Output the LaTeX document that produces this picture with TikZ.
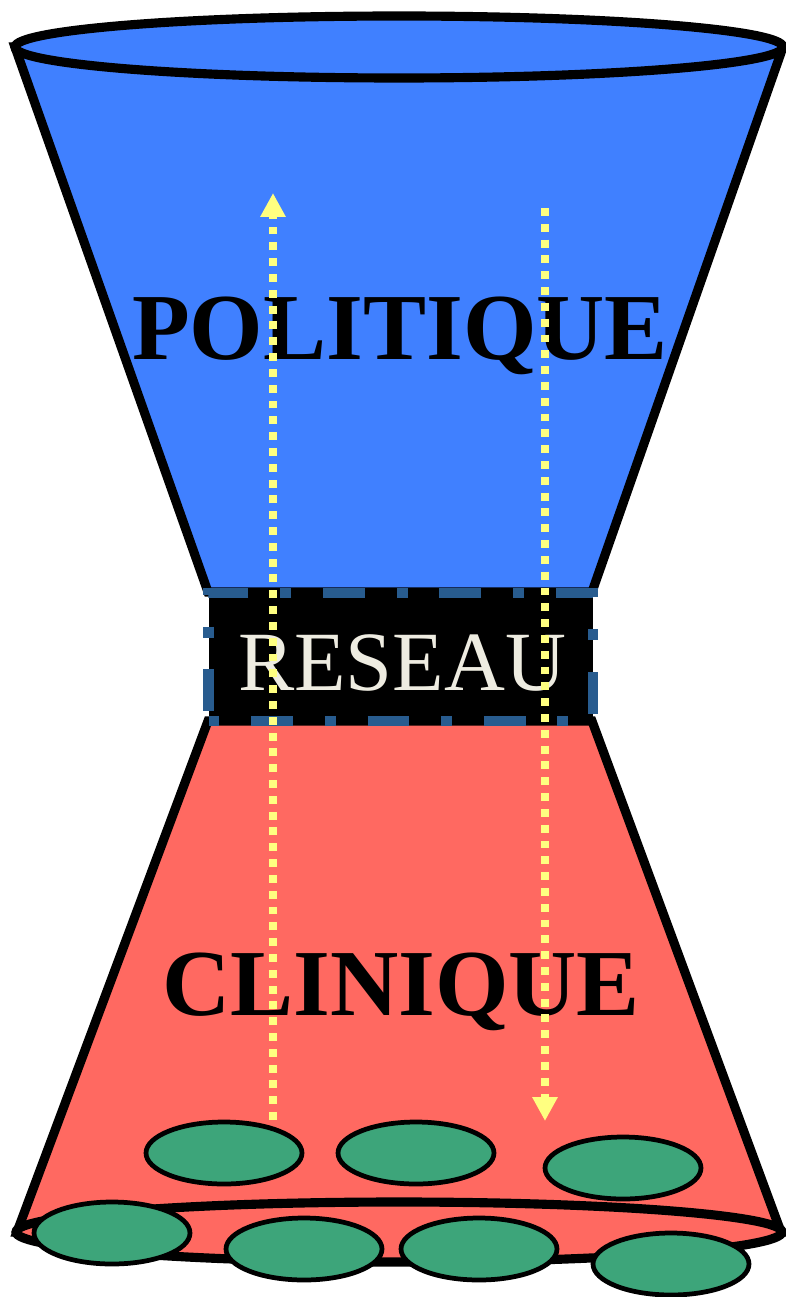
\documentclass[tikz,border=0pt]{standalone}
\usepackage{fontspec}
\setmainfont{Liberation Serif}
\usetikzlibrary{arrows.meta,shapes.geometric}
\definecolor{polblue}{HTML}{4080FF}
\definecolor{clinred}{HTML}{FF6961}
\definecolor{cellgreen}{HTML}{3DA57A}
\definecolor{netblue}{HTML}{285C8F}
\definecolor{flowyellow}{HTML}{FFFF80}
\definecolor{netwhite}{HTML}{EEECE1}
\begin{document}
\begin{tikzpicture}[x=0.02cm,y=-0.02cm,>=Latex,
  blob/.style={draw=black,line width=2.7pt,fill=cellgreen,ellipse,minimum width=3.12cm,minimum height=1.24cm,inner sep=0pt},
  flow/.style={draw=flowyellow,line width=4.5pt,dash pattern=on 4.5pt off 4.5pt,-{Triangle[length=13.6pt,width=13.6pt,fill=flowyellow]}},
  title/.style={font=\bfseries\fontsize{53.8}{60}\selectfont,anchor=base,inner sep=0pt}]
\useasboundingbox (0,0) rectangle (786,1297);
% politique
\draw[line width=5.2pt,fill=polblue] (15,47)--(783,47)--(592,592)--(208,592)--cycle;
\draw[line width=5.2pt,fill=polblue] (399,47) ellipse [x radius=384,y radius=31];
% clinique
\draw[line width=5.2pt,fill=clinred] (208,721)--(592,721)--(781,1232)--(17,1232)--cycle;
\draw[line width=5.2pt,fill=clinred] (399,1232) ellipse [x radius=383,y radius=30];
% reseau
\node[draw=netblue,fill=black,line width=6.2pt,dash pattern=on 6.2pt off 18.1pt on 23.8pt off 18.1pt,minimum width=7.69cm,minimum height=2.56cm,inner sep=0pt] (net) at (400.75,657) {};
\node[font=\fontsize{48}{56}\selectfont,text=netwhite,anchor=base,inner sep=0pt] (netlabel) at (402,690) {RESEAU};
% cells
\node[blob] (c1) at (224,1153) {};
\node[blob] (c2) at (416,1153) {};
\node[blob] (c3) at (623,1168) {};
\node[blob] (c4) at (112,1233) {};
\node[blob] (c5) at (304,1249) {};
\node[blob] (c6) at (479,1249) {};
\node[blob] (c7) at (671,1264) {};
% labels
\node[title] (pol) at (400,359) {POLITIQUE};
\node[title] (clin) at (401,1015) {CLINIQUE};
% flows
\coordinate (up0) at (273,1120);
\coordinate (up1) at (273,193);
\coordinate (down0) at (545,208);
\coordinate (down1) at (545,1121);
\draw[flow] (up0)--(up1);
\draw[flow] (down0)--(down1);
\end{tikzpicture}
\end{document}
